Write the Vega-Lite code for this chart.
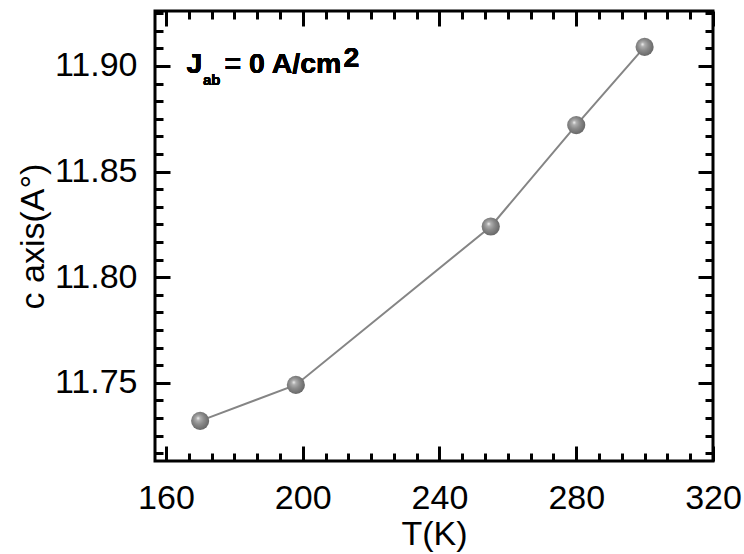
{
  "$schema": "https://vega.github.io/schema/vega-lite/v6.json",
  "width": 558,
  "height": 450,
  "autosize": {"type": "none"},
  "padding": {"left": 155, "top": 11, "right": 31, "bottom": 93},
  "background": "white",
  "config": {
    "view": {"stroke": "black", "strokeWidth": 3},
    "font": "Liberation Sans",
    "axis": {"grid": false, "domain": false, "labelFont": "Liberation Sans", "titleFont": "Liberation Sans", "labelColor": "black", "titleColor": "black", "tickColor": "black", "tickWidth": 3}
  },
  "data": {"values": [
    {"T": 170, "c": 11.732},
    {"T": 198, "c": 11.749},
    {"T": 255, "c": 11.824},
    {"T": 280, "c": 11.872},
    {"T": 300, "c": 11.909}
  ]},
  "resolve": {"axis": {"x": "independent", "y": "independent"}},
  "layer": [
    {
      "mark": {"type": "line", "color": "#858585", "strokeWidth": 2},
      "encoding": {
        "x": {"field": "T", "type": "quantitative", "scale": {"domain": [156.8, 320], "nice": false, "zero": false},
          "axis": {"orient": "bottom", "values": [160, 200, 240, 280, 320], "format": "d", "title": "T(K)", "labelFontSize": 34, "titleFontSize": 34, "titleFontWeight": "normal", "ticks": false, "labelPadding": 20, "titlePadding": 2, "labelFlush": false}},
        "y": {"field": "c", "type": "quantitative", "scale": {"domain": [11.713, 11.926], "nice": false, "zero": false},
          "axis": {"orient": "left", "values": [11.75, 11.8, 11.85, 11.9], "format": ".2f", "title": "c axis(A°)", "labelFontSize": 34, "titleFontSize": 34, "titleFontWeight": "normal", "ticks": false, "labelPadding": 18, "titlePadding": 4, "labelFlush": false}}
      }
    },
    {
      "mark": {"type": "point", "filled": true, "opacity": 1, "size": 330, "strokeWidth": 0,
        "fill": {"gradient": "radial", "x1": 0.38, "y1": 0.35, "r1": 0, "x2": 0.45, "y2": 0.45, "r2": 0.55,
          "stops": [{"offset": 0, "color": "#f8f8f8"}, {"offset": 0.2, "color": "#b0b0b0"}, {"offset": 0.55, "color": "#8a8a8a"}, {"offset": 1, "color": "#686868"}]}},
      "encoding": {
        "x": {"field": "T", "type": "quantitative", "scale": {"domain": [156.8, 320], "nice": false, "zero": false}, "axis": null},
        "y": {"field": "c", "type": "quantitative", "scale": {"domain": [11.713, 11.926], "nice": false, "zero": false}, "axis": null}
      }
    },
    {
      "mark": {"type": "point", "opacity": 0},
      "encoding": {
        "x": {"field": "T", "type": "quantitative", "scale": {"domain": [156.8, 320], "nice": false, "zero": false},
          "axis": {"orient": "bottom", "values": [160, 200, 240, 280, 320], "labels": false, "title": null, "tickSize": -15}},
        "y": {"field": "c", "type": "quantitative", "scale": {"domain": [11.713, 11.926], "nice": false, "zero": false},
          "axis": {"orient": "left", "values": [11.75, 11.8, 11.85, 11.9], "labels": false, "title": null, "tickSize": -15}}
      }
    },
    {
      "mark": {"type": "point", "opacity": 0},
      "encoding": {
        "x": {"field": "T", "type": "quantitative", "scale": {"domain": [156.8, 320], "nice": false, "zero": false},
          "axis": {"orient": "bottom", "values": [166.667, 173.333, 180, 186.667, 193.333, 206.667, 213.333, 220, 226.667, 233.333, 246.667, 253.333, 260, 266.667, 273.333, 286.667, 293.333, 300, 306.667, 313.333], "labels": false, "title": null, "tickSize": -8}},
        "y": {"field": "c", "type": "quantitative", "scale": {"domain": [11.713, 11.926], "nice": false, "zero": false},
          "axis": {"orient": "left", "values": [11.71667, 11.725, 11.73333, 11.74167, 11.75833, 11.76667, 11.775, 11.78333, 11.79167, 11.80833, 11.81667, 11.825, 11.83333, 11.84167, 11.85833, 11.86667, 11.875, 11.88333, 11.89167, 11.90833, 11.91667, 11.925], "labels": false, "title": null, "tickSize": -8}}
      }
    },
    {
      "mark": {"type": "point", "opacity": 0},
      "encoding": {
        "x": {"field": "T", "type": "quantitative", "scale": {"domain": [156.8, 320], "nice": false, "zero": false},
          "axis": {"orient": "top", "values": [160, 200, 240, 280, 320], "labels": false, "title": null, "tickSize": -15}},
        "y": {"field": "c", "type": "quantitative", "scale": {"domain": [11.713, 11.926], "nice": false, "zero": false},
          "axis": {"orient": "right", "values": [11.75, 11.8, 11.85, 11.9], "labels": false, "title": null, "tickSize": -15}}
      }
    },
    {
      "mark": {"type": "point", "opacity": 0},
      "encoding": {
        "x": {"field": "T", "type": "quantitative", "scale": {"domain": [156.8, 320], "nice": false, "zero": false},
          "axis": {"orient": "top", "values": [166.667, 173.333, 180, 186.667, 193.333, 206.667, 213.333, 220, 226.667, 233.333, 246.667, 253.333, 260, 266.667, 273.333, 286.667, 293.333, 300, 306.667, 313.333], "labels": false, "title": null, "tickSize": -8}},
        "y": {"field": "c", "type": "quantitative", "scale": {"domain": [11.713, 11.926], "nice": false, "zero": false},
          "axis": {"orient": "right", "values": [11.71667, 11.725, 11.73333, 11.74167, 11.75833, 11.76667, 11.775, 11.78333, 11.79167, 11.80833, 11.81667, 11.825, 11.83333, 11.84167, 11.85833, 11.86667, 11.875, 11.88333, 11.89167, 11.90833, 11.91667, 11.925], "labels": false, "title": null, "tickSize": -8}}
      }
    },
    {
      "mark": {"type": "text", "text": "J", "font": "Liberation Sans", "fontWeight": "bold", "fontSize": 28.5, "align": "left", "baseline": "alphabetic", "dx": 0, "dy": 7, "color": "black"},
      "encoding": {
        "x": {"datum": 166, "type": "quantitative", "scale": {"domain": [156.8, 320], "nice": false, "zero": false}, "axis": null},
        "y": {"datum": 11.9, "type": "quantitative", "scale": {"domain": [11.713, 11.926], "nice": false, "zero": false}, "axis": null}
      }
    },
    {
      "mark": {"type": "text", "text": "ab", "font": "Liberation Sans", "fontWeight": "bold", "fontSize": 15, "align": "left", "baseline": "alphabetic", "dx": 16.5, "dy": 19, "color": "black"},
      "encoding": {
        "x": {"datum": 166, "type": "quantitative", "scale": {"domain": [156.8, 320], "nice": false, "zero": false}, "axis": null},
        "y": {"datum": 11.9, "type": "quantitative", "scale": {"domain": [11.713, 11.926], "nice": false, "zero": false}, "axis": null}
      }
    },
    {
      "mark": {"type": "text", "text": "= 0 A/cm", "font": "Liberation Sans", "fontWeight": "bold", "fontSize": 28.5, "align": "left", "baseline": "alphabetic", "dx": 38, "dy": 7, "color": "black"},
      "encoding": {
        "x": {"datum": 166, "type": "quantitative", "scale": {"domain": [156.8, 320], "nice": false, "zero": false}, "axis": null},
        "y": {"datum": 11.9, "type": "quantitative", "scale": {"domain": [11.713, 11.926], "nice": false, "zero": false}, "axis": null}
      }
    },
    {
      "mark": {"type": "text", "text": "2", "font": "Liberation Sans", "fontWeight": "bold", "fontSize": 28.5, "align": "left", "baseline": "alphabetic", "dx": 157, "dy": 1, "color": "black"},
      "encoding": {
        "x": {"datum": 166, "type": "quantitative", "scale": {"domain": [156.8, 320], "nice": false, "zero": false}, "axis": null},
        "y": {"datum": 11.9, "type": "quantitative", "scale": {"domain": [11.713, 11.926], "nice": false, "zero": false}, "axis": null}
      }
    }
  ]
}
